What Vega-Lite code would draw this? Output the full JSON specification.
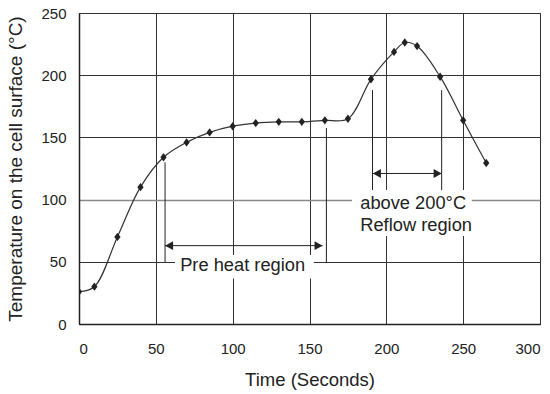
{
  "$schema": "https://vega.github.io/schema/vega-lite/v6.json",
  "width": 461,
  "height": 311,
  "autosize": "none",
  "padding": {"left": 79, "top": 13, "right": 10, "bottom": 70},
  "background": "white",
  "config": {
    "view": {"stroke": "#222", "strokeWidth": 1},
    "font": "Liberation Sans",
    "axis": {
      "labelFont": "Liberation Sans",
      "titleFont": "Liberation Sans",
      "labelColor": "#222",
      "titleColor": "#222",
      "titleFontWeight": "normal",
      "labelFontSize": 15,
      "titleFontSize": 18.5,
      "ticks": false,
      "tickSize": 0,
      "domainColor": "#222",
      "domainWidth": 1.5,
      "grid": true,
      "gridColor": "#333",
      "gridWidth": 1,
      "gridOpacity": 1
    }
  },
  "datasets": {
    "profile": [
      {"t": 0, "temp": 26},
      {"t": 10, "temp": 30},
      {"t": 25, "temp": 70},
      {"t": 40, "temp": 110},
      {"t": 55, "temp": 134},
      {"t": 70, "temp": 146},
      {"t": 85, "temp": 154},
      {"t": 100, "temp": 159},
      {"t": 115, "temp": 161.5},
      {"t": 130, "temp": 162.5},
      {"t": 145, "temp": 162.5},
      {"t": 160, "temp": 163.7},
      {"t": 175, "temp": 165},
      {"t": 190, "temp": 196.7},
      {"t": 205, "temp": 218.7},
      {"t": 212, "temp": 226.3},
      {"t": 220, "temp": 223.4},
      {"t": 235, "temp": 198.8},
      {"t": 250, "temp": 163.7},
      {"t": 265, "temp": 129.4}
    ],
    "boxes": [
      {"x0": 62.5, "x1": 152.8, "y0": 36.6, "y1": 55.5},
      {"x0": 177.7, "x1": 255.6, "y0": 70.8, "y1": 107.7}
    ],
    "vlines": [
      {"t": 56, "top": 130, "bottom": 49.5},
      {"t": 161, "top": 157.5, "bottom": 49.5},
      {"t": 191, "top": 188, "bottom": 107.7},
      {"t": 236, "top": 188, "bottom": 107.7}
    ],
    "arrows": [
      {"start": 56, "end": 158.5, "level": 63},
      {"start": 191.3, "end": 236, "level": 121}
    ],
    "heads": [
      {"t": 56, "level": 63, "side": "left"},
      {"t": 158.5, "level": 63, "side": "right"},
      {"t": 191.3, "level": 121, "side": "left"},
      {"t": 236, "level": 121, "side": "right"}
    ],
    "centerLabels": [
      {"t": 106.5, "level": 43, "text": "Pre heat region"}
    ],
    "leftLabels": [
      {"t": 183, "level": 92.5, "text": "above 200°C"},
      {"t": 183, "level": 74.6, "text": "Reflow region"}
    ]
  },
  "layer": [
    {
      "data": {"name": "boxes"},
      "mark": {"type": "rect", "fill": "white", "stroke": null},
      "encoding": {
        "x": {"field": "x0", "type": "quantitative", "scale": {"domain": [0, 300], "nice": false},
          "axis": {"values": [0, 50, 100, 150, 200, 250, 300], "title": "Time (Seconds)", "labelPadding": 17, "titlePadding": 14}},
        "x2": {"field": "x1"},
        "y": {"field": "y0", "type": "quantitative", "scale": {"domain": [0, 250], "nice": false},
          "axis": {"values": [0, 50, 100, 150, 200, 250], "title": "Temperature on the cell surface (°C)", "titleFontSize": 19, "labelPadding": 13, "titlePadding": 15,
            "gridColor": {"condition": {"test": "datum.value === 100", "value": "#8a8a8a"}, "value": "#333"},
            "gridWidth": {"condition": {"test": "datum.value === 100", "value": 1.6}, "value": 1}}},
        "y2": {"field": "y1"}
      }
    },
    {
      "data": {"name": "vlines"},
      "mark": {"type": "rule", "color": "#222", "strokeWidth": 1},
      "encoding": {
        "x": {"field": "t", "type": "quantitative"},
        "y": {"field": "top", "type": "quantitative"},
        "y2": {"field": "bottom"}
      }
    },
    {
      "data": {"name": "arrows"},
      "mark": {"type": "rule", "color": "#222", "strokeWidth": 1},
      "encoding": {
        "x": {"field": "start", "type": "quantitative"},
        "x2": {"field": "end"},
        "y": {"field": "level", "type": "quantitative"}
      }
    },
    {
      "data": {"name": "heads"},
      "transform": [{"filter": "datum.side === 'left'"}],
      "mark": {"type": "point", "shape": "M0,0L2,-1.1L2,1.1Z", "size": 64, "filled": true, "color": "#222", "opacity": 1},
      "encoding": {
        "x": {"field": "t", "type": "quantitative"},
        "y": {"field": "level", "type": "quantitative"}
      }
    },
    {
      "data": {"name": "heads"},
      "transform": [{"filter": "datum.side === 'right'"}],
      "mark": {"type": "point", "shape": "M0,0L-2,-1.1L-2,1.1Z", "size": 64, "filled": true, "color": "#222", "opacity": 1},
      "encoding": {
        "x": {"field": "t", "type": "quantitative"},
        "y": {"field": "level", "type": "quantitative"}
      }
    },
    {
      "data": {"name": "profile"},
      "mark": {"type": "line", "interpolate": "catmull-rom", "color": "#333", "strokeWidth": 1.2, "clip": true},
      "encoding": {
        "x": {"field": "t", "type": "quantitative"},
        "y": {"field": "temp", "type": "quantitative"}
      }
    },
    {
      "data": {"name": "profile"},
      "mark": {"type": "point", "shape": "M0,-1L0.75,0L0,1L-0.75,0Z", "size": 70, "filled": true, "color": "#222", "opacity": 1, "clip": true},
      "encoding": {
        "x": {"field": "t", "type": "quantitative"},
        "y": {"field": "temp", "type": "quantitative"}
      }
    },
    {
      "data": {"name": "centerLabels"},
      "mark": {"type": "text", "font": "Liberation Sans", "fontSize": 18.3, "color": "#222", "baseline": "alphabetic", "align": "center"},
      "encoding": {
        "x": {"field": "t", "type": "quantitative"},
        "y": {"field": "level", "type": "quantitative"},
        "text": {"field": "text"}
      }
    },
    {
      "data": {"name": "leftLabels"},
      "mark": {"type": "text", "font": "Liberation Sans", "fontSize": 18.3, "color": "#222", "baseline": "alphabetic", "align": "left"},
      "encoding": {
        "x": {"field": "t", "type": "quantitative"},
        "y": {"field": "level", "type": "quantitative"},
        "text": {"field": "text"}
      }
    }
  ]
}
